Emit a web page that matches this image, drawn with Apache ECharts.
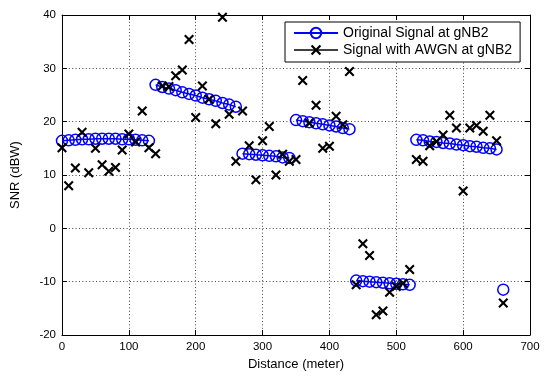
<!DOCTYPE html>
<html>
<head>
<meta charset="utf-8">
<script src="https://cdn.jsdelivr.net/npm/echarts@6/dist/echarts.min.js"></script>
<style>
html,body{margin:0;padding:0;background:#fff;}
#chart{width:547px;height:376px;}
</style>
</head>
<body>
<div id="chart"></div>
<script>
// Distance (meter)
var distance = [0,10,20,30,40,50,60,70,80,90,100,110,120,130,140,150,160,170,180,190,200,210,220,230,240,250,260,270,280,290,300,310,320,330,340,350,360,370,380,390,400,410,420,430,440,450,460,470,480,490,500,510,520,530,540,550,560,570,580,590,600,610,620,630,640,650,660];
// Original Signal at gNB2 (dBW)
var originalSNR = [16.4,16.5,16.6,16.7,16.7,16.8,16.8,16.8,16.8,16.7,16.7,16.6,16.5,16.4,
  26.9,26.5,26.2,25.9,25.5,25.2,24.9,24.5,24.2,23.9,23.5,23.2,22.8,
  14.0,13.9,13.8,13.7,13.6,13.5,13.3,13.2,
  20.3,20.1,19.9,19.7,19.5,19.3,19.1,18.8,18.6,
  -9.8,-9.9,-10.0,-10.1,-10.2,-10.3,-10.4,-10.5,-10.6,
  16.6,16.5,16.3,16.2,16.0,15.9,15.7,15.6,15.4,15.3,15.1,15.0,14.8,
  -11.5];
// Signal with AWGN at gNB2 (dBW)
var awgnSNR = [15.1,8.0,11.3,18.0,10.4,15.0,11.9,10.7,11.4,14.7,17.7,16.2,22.0,15.1,14.0,
  26.7,26.6,28.6,29.7,35.4,20.8,26.7,24.2,19.6,39.6,21.4,12.6,
  22.0,15.5,9.1,16.4,19.1,10.0,13.9,12.6,
  12.9,27.7,19.7,23.1,15.0,15.4,21.0,19.4,29.4,
  -10.6,-2.9,-5.1,-16.2,-15.5,-12.0,-10.9,-10.3,-7.7,
  12.9,12.6,15.5,16.3,17.5,21.2,18.8,7.0,18.8,19.3,18.2,21.2,16.4,
  -14.0];
// distances where a new gNB2 segment starts (line is broken there)
var segmentStarts = [140,270,350,440,530,660];
var xTicks = [0,100,200,300,400,500,600,700];
var yTicks = [-20,-10,0,10,20,30,40];

var blueData = [];
for (var i = 0; i < distance.length; i++) {
  if (segmentStarts.indexOf(distance[i]) >= 0) blueData.push([distance[i], '-']);
  blueData.push([distance[i], originalSNR[i]]);
}
var blackData = distance.map(function (d, i) { return [d, awgnSNR[i]]; });

var FONT = 'Liberation Sans, Arial, sans-serif';
var crossPath = 'path://M0,1.5L1.5,0L5,3.5L8.5,0L10,1.5L6.5,5L10,8.5L8.5,10L5,6.5L1.5,10L0,8.5L3.5,5Z';

var chart = echarts.init(document.getElementById('chart'));
var gridLine = {show: true, lineStyle: {color: '#444', width: 1, type: [1, 2.4]}};
chart.setOption({
  animation: false,
  backgroundColor: '#fff',
  grid: {left: 62, right: 17, top: 15, bottom: 36, containLabel: false},
  legend: {
    orient: 'vertical', left: 285, top: 22,
    backgroundColor: '#fff', borderColor: '#000', borderWidth: 1, borderRadius: 0,
    padding: [4, 8, 5, 8], itemGap: 3, itemWidth: 44, itemHeight: 13,
    textStyle: {fontFamily: FONT, fontSize: 14, color: '#000'},
    data: [
      {name: 'Original Signal at gNB2'},
      {name: 'Signal with AWGN at gNB2', lineStyle: {opacity: 1, width: 1.5, color: '#000'}}
    ]
  },
  xAxis: [{
    type: 'value', min: 0, max: 700, interval: 100,
    name: 'Distance (meter)', nameLocation: 'middle', nameGap: 23,
    nameTextStyle: {fontFamily: FONT, fontSize: 13, color: '#000'},
    axisLine: {onZero: false, lineStyle: {color: '#000', width: 1}},
    axisTick: {inside: true, length: 5, lineStyle: {color: '#000'}},
    axisLabel: {fontFamily: FONT, fontSize: 11.5, color: '#000', margin: 6},
    splitLine: gridLine
  }, {
    type: 'value', min: 0, max: 700, interval: 100, position: 'top',
    axisLine: {onZero: false, lineStyle: {color: '#000', width: 1}},
    axisTick: {inside: true, length: 5, lineStyle: {color: '#000'}},
    axisLabel: {show: false}, splitLine: {show: false}
  }],
  yAxis: [{
    type: 'value', min: -20, max: 40, interval: 10,
    name: 'SNR (dBW)', nameLocation: 'middle', nameGap: 40,
    nameTextStyle: {fontFamily: FONT, fontSize: 13, color: '#000'},
    axisLine: {show: true, onZero: false, lineStyle: {color: '#000', width: 1}},
    axisTick: {show: true, inside: true, length: 5, lineStyle: {color: '#000'}},
    axisLabel: {fontFamily: FONT, fontSize: 11.5, color: '#000', margin: 6},
    splitLine: gridLine
  }, {
    type: 'value', min: -20, max: 40, interval: 10, position: 'right',
    axisLine: {show: true, onZero: false, lineStyle: {color: '#000', width: 1}},
    axisTick: {show: true, inside: true, length: 5, lineStyle: {color: '#000'}},
    axisLabel: {show: false}, splitLine: {show: false}
  }],
  series: [{
    name: 'Original Signal at gNB2', type: 'line', data: blueData,
    connectNulls: false,
    symbol: 'circle', symbolSize: 11, showAllSymbol: true,
    lineStyle: {color: '#0000ff', width: 1.5},
    itemStyle: {color: 'rgba(255,255,255,0)', borderColor: '#0000ff', borderWidth: 1.5},
    emphasis: {disabled: true}, z: 2
  }, {
    name: 'Signal with AWGN at gNB2', type: 'line', data: blackData,
    symbol: crossPath, symbolSize: 10, showAllSymbol: true,
    lineStyle: {opacity: 0, color: '#000', width: 1.5},
    itemStyle: {color: '#000'},
    emphasis: {disabled: true}, z: 3
  }]
});
</script>
</body>
</html>
